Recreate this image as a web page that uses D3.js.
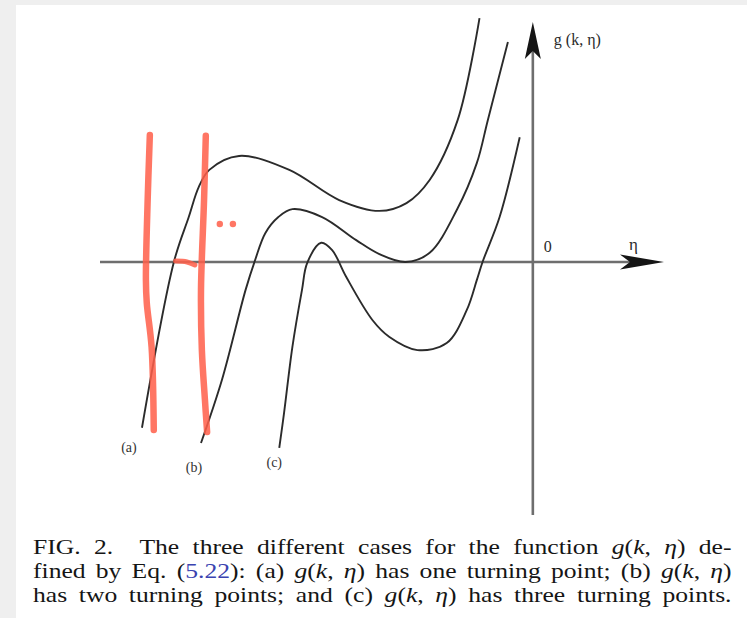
<!DOCTYPE html>
<html>
<head>
<meta charset="utf-8">
<script src="https://cdn.jsdelivr.net/npm/d3@7"></script>
<style>
  html, body { margin: 0; padding: 0; background: #ffffff; }
  svg { display: block; }
</style>
</head>
<body>
<svg id="fig" width="747" height="618"></svg>
<script>
// g(k, η) sampled along η for the three cases, as [η, g] pairs
const curveA = [
  [-8.94, -3.80], [-8.21, 0.00], [-7.87, 1.03], [-7.64, 1.72], [-7.40, 2.11],
  [-6.72, 2.43], [-5.57, 2.11], [-4.43, 1.42], [-3.51, 1.17], [-2.89, 1.35],
  [-2.36, 1.88], [-1.72, 3.25], [-1.22, 5.59]
];
const curveB = [
  [-7.59, -4.15], [-7.11, -2.70], [-6.57, -0.64], [-6.35, 0.05], [-6.12, 0.66],
  [-5.82, 1.03], [-5.50, 1.21], [-4.82, 1.03], [-4.04, 0.50], [-3.51, 0.18],
  [-2.91, 0.00], [-2.36, 0.21], [-1.74, 1.19], [-1.28, 2.27], [-1.03, 3.25],
  [-0.57, 5.04]
];
const curveC = [
  [-5.80, -4.26], [-5.69, -3.46], [-5.50, -1.95], [-5.28, -0.64], [-5.16, -0.02],
  [-4.84, 0.44], [-4.59, 0.27], [-4.27, -0.34], [-3.67, -1.33], [-3.28, -1.72],
  [-2.64, -2.02], [-1.97, -1.86], [-1.51, -1.10], [-1.28, -0.41], [-1.15, 0.00],
  [-0.76, 1.03], [-0.30, 2.86]
];
const curveNames = ["(a)", "(b)", "(c)"];

// Hand-drawn red annotation strokes, in the same η / g units
const markLeft  = [[-8.76, 2.91], [-8.81, 1.42], [-8.85, -0.41], [-8.83, -0.94], [-8.72, -1.95], [-8.67, -3.85]];
const markRight = [[-7.48, 2.89], [-7.52, 1.42], [-7.59, -0.64], [-7.57, -2.02], [-7.50, -3.16], [-7.45, -3.90]];
const markDash  = [[-8.17, 0.02], [-7.91, 0.00], [-7.73, -0.07]];
const markDots  = [[-7.16, 0.87], [-6.86, 0.87]];

// Axis texts
const yAxisLabel = "g (k, η)";
const xAxisLabel = "η";
const originLabel = "0";

// Caption lines: [text, style] runs
const captionLines = [
  [["FIG. 2.", "n"], ["  The three different cases for the function ", "n"], ["g", "i"], ["(", "n"], ["k", "i"], [", ", "n"], ["η", "i"], [") de-", "n"]],
  [["fined by Eq. (", "n"], ["5.22", "link"], ["): (a) ", "n"], ["g", "i"], ["(", "n"], ["k", "i"], [", ", "n"], ["η", "i"], [") has one turning point; (b) ", "n"], ["g", "i"], ["(", "n"], ["k", "i"], [", ", "n"], ["η", "i"], [")", "n"]],
  [["has two turning points; and (c) ", "n"], ["g", "i"], ["(", "n"], ["k", "i"], [", ", "n"], ["η", "i"], [") has three turning points.", "n"]]
];

const svg = d3.select("#fig");
const W = 747, H = 618;
const serif = "'Liberation Serif', 'Times New Roman', serif";

// page frame: light grey margin on the left and top
svg.append("rect").attr("width", W).attr("height", H).attr("fill", "#efefef");
svg.append("rect").attr("x", 16).attr("y", 5).attr("width", W - 16).attr("height", H - 5).attr("fill", "#ffffff");

const x = d3.scaleLinear().domain([-9.9, 3]).range([100, 664]);
const y = d3.scaleLinear().domain([-5.8, 5.5]).range([515, 22]);

const plot = svg.append("g");

// axes
const axisColor = "#6e6e6e";
plot.append("line")
  .attr("x1", x.range()[0]).attr("x2", x.range()[1] - 20)
  .attr("y1", y(0)).attr("y2", y(0))
  .attr("stroke", axisColor).attr("stroke-width", 2.6);
plot.append("line")
  .attr("x1", x(0)).attr("x2", x(0))
  .attr("y1", y.range()[0]).attr("y2", y.range()[1] + 20)
  .attr("stroke", axisColor).attr("stroke-width", 2.6);

// arrow heads
const tipX = x.range()[1], y0 = y(0);
plot.append("path")
  .attr("d", `M${tipX},${y0} L${tipX - 44},${y0 - 7.5} L${tipX - 34},${y0} L${tipX - 44},${y0 + 7.5} Z`)
  .attr("fill", "#151515");
const tipY = y.range()[1], x0 = x(0);
plot.append("path")
  .attr("d", `M${x0},${tipY} L${x0 - 8},${tipY + 37} L${x0},${tipY + 29} L${x0 + 8},${tipY + 37} Z`)
  .attr("fill", "#151515");

// axis labels
plot.append("text").attr("x", x0 + 21).attr("y", tipY + 23)
  .attr("font-family", serif).attr("font-size", 16).attr("fill", "#2a2a2a")
  .text(yAxisLabel);
plot.append("text").attr("x", x0 + 11).attr("y", y0 - 10)
  .attr("font-family", serif).attr("font-size", 16).attr("fill", "#2a2a2a")
  .text(originLabel);
plot.append("text").attr("x", tipX - 35).attr("y", y0 - 12)
  .attr("font-family", serif).attr("font-size", 17).attr("fill", "#2a2a2a")
  .text(xAxisLabel);

// curves
const line = d3.line()
  .x(d => x(d[0])).y(d => y(d[1]))
  .curve(d3.curveCatmullRom.alpha(0.5));

const curves = [curveA, curveB, curveC];
plot.selectAll("path.curve").data(curves).join("path")
  .attr("class", "curve")
  .attr("d", line)
  .attr("fill", "none")
  .attr("stroke", "#2b2b2b")
  .attr("stroke-width", 1.9);

// curve names below each starting point
const nameOffsets = [[-13, 24], [-7, 29], [-5, 19]];
plot.selectAll("text.name").data(curves).join("text")
  .attr("class", "name")
  .attr("x", (d, i) => x(d[0][0]) + nameOffsets[i][0])
  .attr("y", (d, i) => y(d[0][1]) + nameOffsets[i][1])
  .attr("text-anchor", "middle")
  .attr("font-family", serif).attr("font-size", 14).attr("fill", "#333")
  .text((d, i) => curveNames[i]);

// red hand-drawn annotations
const red = "#ff5f4a";
const penLine = d3.line().x(d => x(d[0])).y(d => y(d[1])).curve(d3.curveCatmullRom.alpha(0.5));
const marks = svg.append("g").attr("opacity", 0.85);
[markLeft, markRight].forEach(m => {
  marks.append("path").attr("d", penLine(m))
    .attr("fill", "none").attr("stroke", red)
    .attr("stroke-width", 6.5).attr("stroke-linecap", "round").attr("stroke-linejoin", "round");
});
marks.append("path").attr("d", penLine(markDash))
  .attr("fill", "none").attr("stroke", red)
  .attr("stroke-width", 5).attr("stroke-linecap", "round");
marks.selectAll("circle").data(markDots).join("circle")
  .attr("cx", d => x(d[0])).attr("cy", d => y(d[1])).attr("r", 3.2)
  .attr("fill", red);

// caption: wide-set serif lines, justified between the margins
const capLeft = 33, capRight = 732, capTop = 554, capStep = 24;
const capSize = 21;
const widths = [];
const capTexts = captionLines.map((runs, li) => {
  const t = svg.append("text")
    .attr("x", 0).attr("y", 0)
    .attr("font-family", serif).attr("font-size", capSize).attr("fill", "#151515")
    .attr("xml:space", "preserve").style("white-space", "pre");
  runs.forEach(([s, kind]) => {
    const sp = t.append("tspan").text(s);
    if (kind === "i") sp.attr("font-style", "italic");
    if (kind === "link") sp.attr("fill", "#3a43b0");
  });
  widths.push(t.node().getComputedTextLength());
  return t;
});
// one common horizontal stretch, the remainder goes into word gaps
const stretch = Math.min(1.22, (capRight - capLeft) / d3.max(widths));
capTexts.forEach((t, li) => {
  const runs = captionLines[li];
  const spaces = runs.map(r => r[0]).join("").split(" ").length - 1;
  const extra = ((capRight - capLeft) / stretch - widths[li]) / spaces;
  t.attr("word-spacing", Math.max(0, extra))
   .attr("transform", `translate(${capLeft},${capTop + li * capStep}) scale(${stretch},1)`);
});
</script>
</body>
</html>
